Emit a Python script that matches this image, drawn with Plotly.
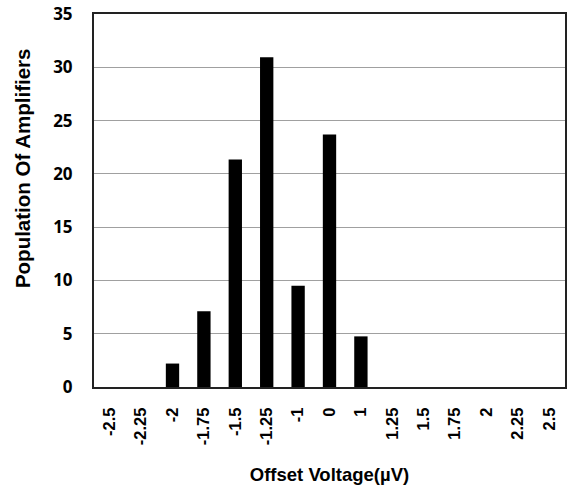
import plotly.graph_objects as go

categories = ["-2.5", "-2.25", "-2", "-1.75", "-1.5", "-1.25", "-1", "0", "1",
              "1.25", "1.5", "1.75", "2", "2.25", "2.5"]
population = [0, 0, 2.2, 7.1, 21.35, 30.95, 9.5, 23.7, 4.75, 0, 0, 0, 0, 0, 0]
y_ticks = [0, 5, 10, 15, 20, 25, 30, 35]

fig = go.Figure(go.Bar(x=categories, y=population, marker=dict(color="black", line=dict(width=0))))

fig.update_layout(
    width=568, height=487,
    margin=dict(l=94, r=3, t=14, b=100),
    paper_bgcolor="white", plot_bgcolor="white",
    bargap=0.575,
    showlegend=False,
    xaxis=dict(
        type="category", tickangle=-90, automargin=False,
        tickfont=dict(family="Liberation Sans", size=16.5, color="black", weight="bold"),
        showline=True, linecolor="#222", linewidth=2, mirror=True,
        ticks="", showgrid=False, ticklabelstandoff=12,
        title=dict(text="<b>Offset Voltage(µV)</b>", font=dict(family="Liberation Sans", size=18.5, color="black"), standoff=24),
    ),
    yaxis=dict(
        range=[0, 35], tickvals=y_ticks, automargin=False,
        tickfont=dict(family="Open Sans", size=17, color="black", weight="bold"),
        showline=True, linecolor="#222", linewidth=2, mirror=True,
        gridcolor="#a0a0a0", gridwidth=1, zeroline=False,
        ticks="", ticklabelstandoff=16,
    ),
    annotations=[dict(
        text="<b>Population Of Amplifiers</b>", textangle=-90,
        xref="paper", yref="paper", x=-0.152, y=0.588,
        xanchor="center", yanchor="middle", showarrow=False,
        font=dict(family="Liberation Sans", size=20.5, color="black"),
    )],
)

fig.write_html("out.html", config={"displayModeBar": False},
               post_script="document.body.style.margin='0';")
